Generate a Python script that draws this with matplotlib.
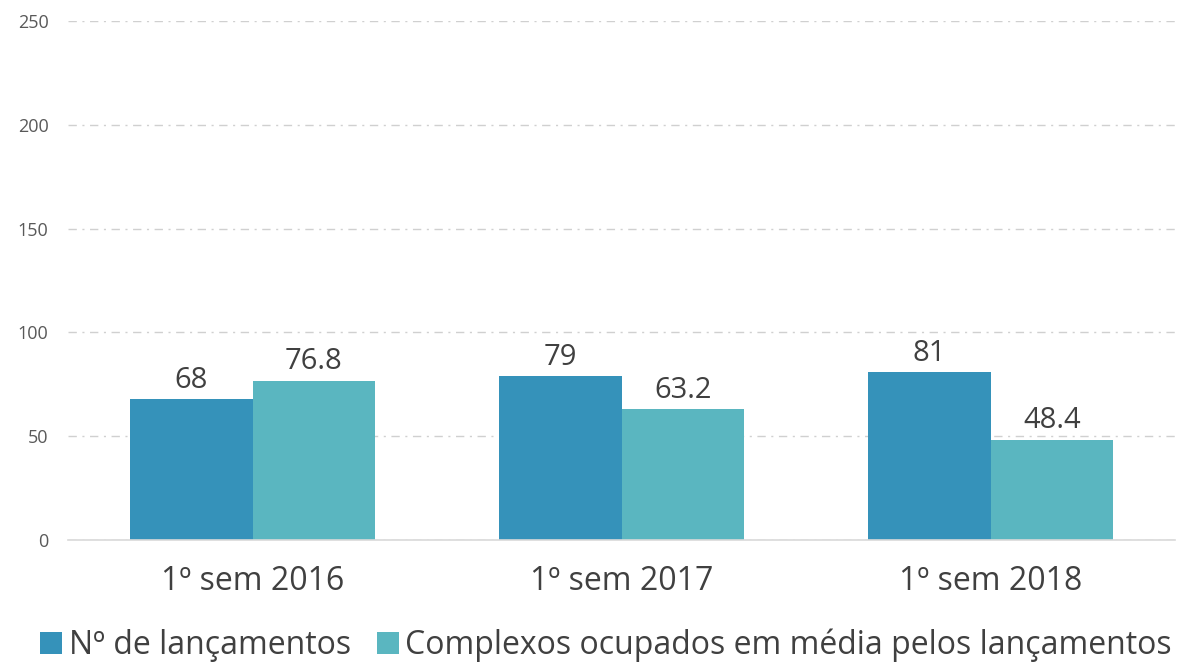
import matplotlib
matplotlib.use("Agg")
import matplotlib.pyplot as plt
import numpy as np

categories = ["1º sem 2016", "1º sem 2017", "1º sem 2018"]
series_names = ["Nº de lançamentos", "Complexos ocupados em média pelos lançamentos"]
lancamentos = [68, 79, 81]
complexos = [76.8, 63.2, 48.4]
label_lanc = ["68", "79", "81"]
label_comp = ["76.8", "63.2", "48.4"]
yticks = [0, 50, 100, 150, 200, 250]

colors = ["#3592BA", "#5AB6C0"]
plt.rcParams['font.family'] = ['Open Sans', 'DejaVu Sans']

fig = plt.figure(figsize=(11.79, 6.66), dpi=100)
ax = fig.add_axes([68/1179, 126/666, (1175-68)/1179, 519/666])

x = np.arange(len(categories))
w = 0.332
b1 = ax.bar(x - w/2, lancamentos, w, color=colors[0], label=series_names[0], zorder=3)
b2 = ax.bar(x + w/2, complexos, w, color=colors[1], label=series_names[1], zorder=3)
for bars, labs in ((b1, label_lanc), (b2, label_comp)):
    for r, t in zip(bars, labs):
        ax.text(r.get_x() + r.get_width()/2, r.get_height() + 2, t, ha='center', va='bottom',
                fontsize=21, color='#404040')

ax.set_xlim(-0.5, 2.5)
ax.set_ylim(0, 250)
ax.set_yticks(yticks)
ax.set_yticklabels([str(v) for v in yticks], fontsize=13, color='#595959')
ax.set_xticks(x)
ax.set_xticklabels(categories, fontsize=23, color='#404040')
ax.tick_params(axis='both', length=0)
ax.tick_params(axis='y', pad=14)
ax.tick_params(axis='x', pad=18)
ax.yaxis.grid(True, color='#d0d0d0', linestyle=(0, (6, 4, 1.5, 4)), linewidth=1, zorder=0)
for s in ['top', 'right', 'left']:
    ax.spines[s].set_visible(False)
ax.spines['bottom'].set_color('#d9d9d9')
ax.spines['bottom'].set_linewidth(1.2)
ax.spines['bottom'].set_zorder(4)

leg = fig.legend(loc='lower center', bbox_to_anchor=(0.514, -0.037), ncol=2, frameon=False,
                 fontsize=23, handlelength=0.7, handleheight=0.7, handletextpad=0.2,
                 columnspacing=0.8, labelcolor='#404040')

fig.savefig("out.png", dpi=100)
